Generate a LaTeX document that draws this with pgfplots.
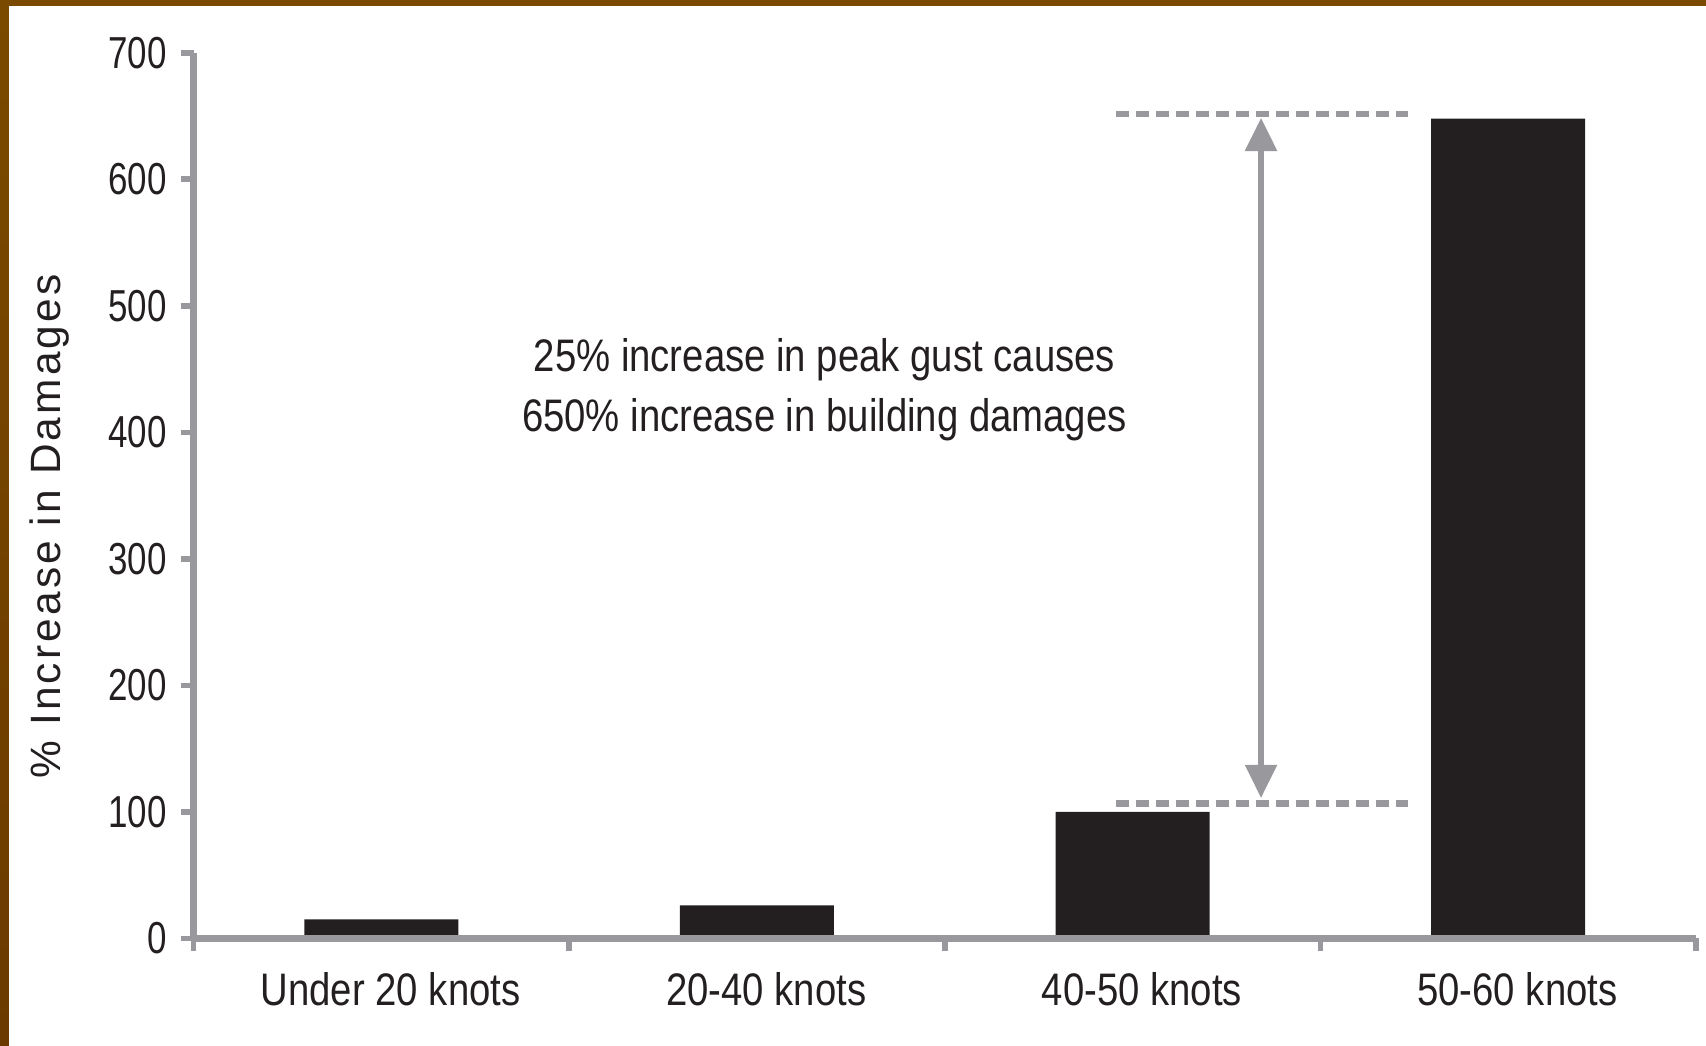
\documentclass[border=0pt]{standalone}
\usepackage{fontspec}
\setmainfont{Liberation Sans}
\newfontfamily\narrowfont{Liberation Sans}[FakeStretch=0.84]
\newfontfamily\numfont{Liberation Sans}[FakeStretch=0.78]
\newfontfamily\labelfont{Liberation Sans}[LetterSpace=7.5]
\usepackage{pgfplots}
\pgfplotsset{compat=1.18}
\usetikzlibrary{arrows.meta}

\definecolor{axisgray}{RGB}{152,152,157}
\definecolor{barblack}{RGB}{35,31,32}
\definecolor{frametop}{RGB}{122,74,0}
\definecolor{framemid}{RGB}{156,104,0}
\definecolor{framebot}{RGB}{107,58,0}

\begin{document}
\begin{tikzpicture}
\useasboundingbox (-48.4pt,-26.9pt) rectangle (378.1pt,234.6pt);
\begin{axis}[
    scale only axis,
    width=375.6pt, height=221.4pt,
    xmin=-0.5, xmax=3.5, ymin=0, ymax=700,
    axis x line=bottom, axis y line=left,
    axis line style={-, draw=axisgray, line width=1.6pt},
    tick style={draw=axisgray, line width=1.4pt},
    tick align=outside, major tick length=3.2pt,
    axis on top,
    clip=false,
    ytick={0,100,...,700},
    xtick={-0.5,0.5,1.5,2.5,3.5}, xticklabels={},
    extra x ticks={0,1,2,3},
    extra x tick labels={Under 20 knots,20-40 knots,40-50 knots,50-60 knots},
    extra x tick style={major tick length=0pt,
        tick label style={anchor=north, inner sep=0pt, yshift=-8.3pt, xshift=2.3pt,
            font=\narrowfont\fontsize{11.4}{13}\selectfont, text=barblack}},
    /pgf/number format/assume math mode=true,
    yticklabel style={anchor=east, inner sep=0pt, xshift=-3.3pt,
        font=\numfont\fontsize{11.2}{13}\selectfont, text=barblack},
    ylabel={\% Increase in Damages},
    every axis y label/.style={at={(axis description cs:-0.0884,0.4652)},
        rotate=90, anchor=base, inner sep=0pt,
        font=\labelfont\fontsize{10.6}{12}\selectfont, text=barblack},
    ybar, bar width=38.5pt,
]
\addplot[fill=barblack, draw=none] coordinates {
    (0,15) (1,26) (2,100) (3,648)
};

% markers for the jump from 40-50 to 50-60 knots
\draw[axisgray, line width=1.6pt, dash pattern=on 3.35pt off 1.65pt]
    (axis cs:1.955,651.5) -- (axis cs:2.733,651.5);
\draw[axisgray, line width=1.6pt, dash pattern=on 3.35pt off 1.65pt]
    (axis cs:1.955,106.6) -- (axis cs:2.733,106.6);
\draw[axisgray, line width=1.35pt,
    {Triangle[width=7.8pt,length=8.3pt]}-{Triangle[width=7.8pt,length=8.3pt]}]
    (axis cs:2.342,111) -- (axis cs:2.342,648.5);

\node[align=center, text=barblack,
    font=\narrowfont\fontsize{11.4}{15}\selectfont]
    at (axis cs:1.1795,433.5)
    {25\% increase in peak gust causes\\650\% increase in building damages};
\end{axis}
\fill[frametop] (-48.4pt,233.1pt) rectangle (378.1pt,234.6pt);
\shade[top color=frametop, middle color=framemid, bottom color=framebot]
    (-48.4pt,-26.9pt) rectangle (-46.2pt,234.6pt);
\end{tikzpicture}
\end{document}
